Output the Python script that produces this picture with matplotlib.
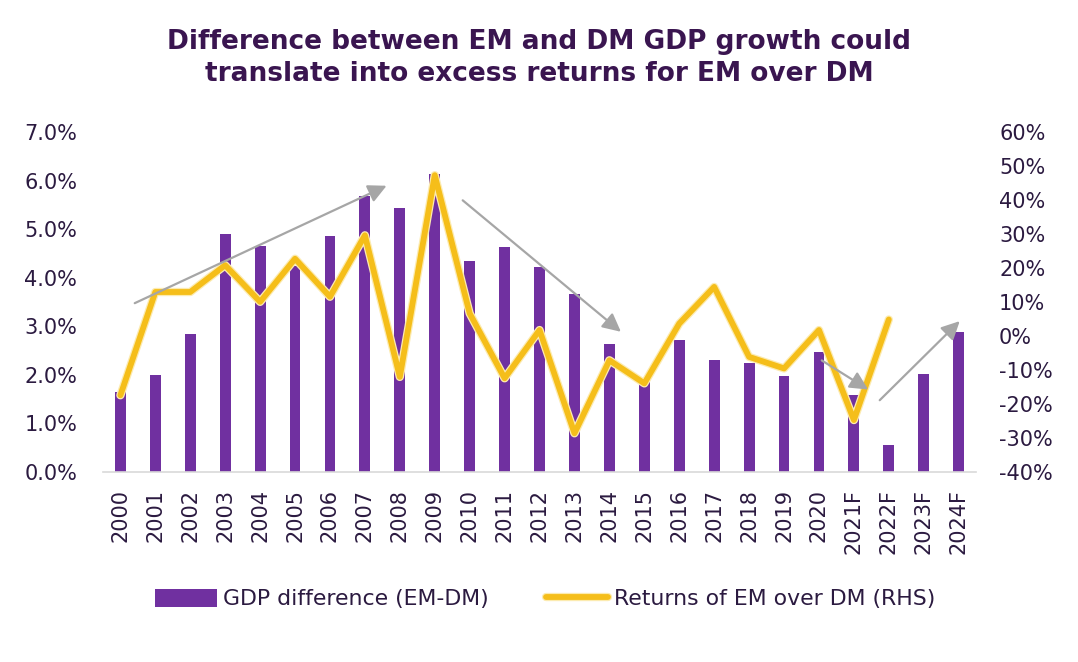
import numpy as np
import matplotlib
matplotlib.use('Agg')
import matplotlib.pyplot as plt
import matplotlib.patheffects as pe
from matplotlib.ticker import FuncFormatter

# Categories and values
years = ['2000', '2001', '2002', '2003', '2004', '2005', '2006', '2007', '2008',
         '2009', '2010', '2011', '2012', '2013', '2014', '2015', '2016', '2017',
         '2018', '2019', '2020', '2021F', '2022F', '2023F', '2024F']
gdp_diff = [1.65, 2.0, 2.84, 4.91, 4.65, 4.25, 4.86, 5.68, 5.45, 6.15, 4.34, 4.63,
            4.22, 3.67, 2.63, 1.9, 2.72, 2.30, 2.24, 1.98, 2.48, 1.58, 0.56, 2.03, 2.88]
em_returns = [-17.4, 13.0, 13.0, 20.9, 10.1, 22.8, 11.6, 29.7, -12.0, 47.4, 6.7,
              -12.4, 1.8, -28.6, -7.1, -13.9, 3.7, 14.5, -6.1, -9.5, 1.8, -24.7, 4.9]

# Trend arrows: (x_start, y_start, x_end, y_end) in category index / left-axis %
arrows = [(0.41, 3.48, 7.62, 5.9),
          (9.8, 5.6, 14.33, 2.89),
          (20.08, 2.30, 21.41, 1.70),
          (21.74, 1.48, 24.03, 3.11)]

purple = '#7030A0'
gold = '#F5BE1A'
text_col = '#2B1A40'
title_col = '#3A1550'

plt.rcParams['font.family'] = ['DejaVu Sans']

fig = plt.figure(figsize=(10.78, 6.62), dpi=100)
ax = fig.add_axes([0.0955, 0.287, 0.81, 0.513])
ax2 = ax.twinx()

x = np.arange(len(years))
ax.bar(x, gdp_diff, width=0.31, color=purple, label='GDP difference (EM-DM)', zorder=2)

ax2.plot(x[:len(em_returns)], em_returns, color=gold, linewidth=4.2,
         solid_joinstyle='round', solid_capstyle='round',
         path_effects=[pe.Stroke(linewidth=6, foreground='#FCEBB0'), pe.Normal()],
         label='Returns of EM over DM (RHS)', zorder=3)

for x0, y0, x1, y1 in arrows:
    ax2.annotate('', xy=(x1, y1), xytext=(x0, y0),
                 xycoords=ax.transData, textcoords=ax.transData,
                 arrowprops=dict(arrowstyle='-|>,head_length=1.1,head_width=0.55',
                                 color='#A6A6A6', lw=1.6, shrinkA=0, shrinkB=0),
                 zorder=4)

ax.set_xlim(-0.5, 24.5)
ax.set_ylim(0, 7)
ax2.set_ylim(-40, 60)
ax.set_yticks(np.arange(0, 7.01, 1))
ax2.set_yticks(np.arange(-40, 61, 10))
ax.yaxis.set_major_formatter(FuncFormatter(lambda v, p: f'{v:.1f}%'))
ax2.yaxis.set_major_formatter(FuncFormatter(lambda v, p: f'{v:.0f}%'))
ax.set_xticks(x)
ax.set_xticklabels(years, rotation=90)

for a in (ax, ax2):
    for s in a.spines.values():
        s.set_visible(False)
    a.tick_params(length=0, labelsize=15, colors=text_col)
ax.spines['bottom'].set_visible(True)
ax.spines['bottom'].set_color('#D9D9D9')
ax.spines['bottom'].set_linewidth(1.2)
ax.tick_params(axis='y', pad=18.5)
ax.tick_params(axis='x', pad=12)
ax2.tick_params(axis='y', pad=16.5)

fig.text(0.5, 0.912, 'Difference between EM and DM GDP growth could\ntranslate into excess returns for EM over DM',
         ha='center', va='center', fontsize=19, fontweight='heavy', color=title_col,
         linespacing=1.32)

h1, l1 = ax.get_legend_handles_labels()
h2, l2 = ax2.get_legend_handles_labels()
leg = fig.legend(h1 + h2, l1 + l2, loc='center', bbox_to_anchor=(0.506, 0.095), ncol=2,
                 frameon=False, fontsize=15.8, handlelength=2.8, handletextpad=0.3,
                 columnspacing=2.6, handleheight=0.9)
for t in leg.get_texts():
    t.set_color(text_col)

fig.savefig('out.png', dpi=100)
